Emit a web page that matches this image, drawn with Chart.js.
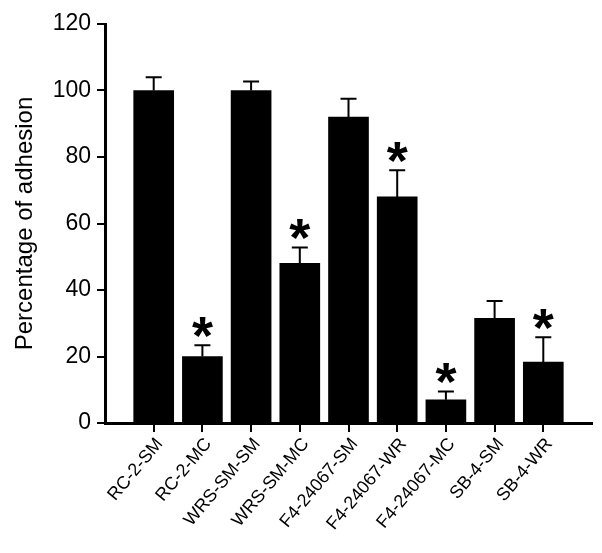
<!DOCTYPE html>
<html>
<head>
<meta charset="utf-8">
<script src="https://cdn.jsdelivr.net/npm/chart.js@4.4.1/dist/chart.umd.min.js"></script>
<style>
  html, body { margin: 0; padding: 0; background: #fff; }
  #wrap { width: 602px; height: 553px; }
</style>
</head>
<body>
<div id="wrap"><canvas id="adhesionChart"></canvas></div>
<script>
const categories = ["RC-2-SM", "RC-2-MC", "WRS-SM-SM", "WRS-SM-MC", "F4-24067-SM",
                    "F4-24067-WR", "F4-24067-MC", "SB-4-SM", "SB-4-WR"];
const adhesion = [100, 20, 100, 48, 92, 68, 7, 31.5, 18.3];
const errorUp = [4, 3.4, 2.7, 4.8, 5.5, 8, 2.5, 5.2, 7.5];
const significant = [false, true, false, true, false, true, true, false, true];
const yTicks = [0, 20, 40, 60, 80, 100, 120];

const FONT = "'Liberation Sans', Arial, sans-serif";

// error bars + asterisks drawn on top of the bars
const errorBarPlugin = {
  id: "errorBars",
  afterDatasetsDraw(chart) {
    const ctx = chart.ctx;
    const x = chart.scales.x, y = chart.scales.y;
    ctx.save();
    ctx.strokeStyle = "#000";
    ctx.fillStyle = "#000";
    ctx.lineWidth = 2;
    adhesion.forEach((v, i) => {
      const px = x.getPixelForValue(i);
      const top = y.getPixelForValue(v + errorUp[i]);
      const base = y.getPixelForValue(v);
      ctx.beginPath();
      ctx.moveTo(px, base);
      ctx.lineTo(px, top);
      ctx.moveTo(px - 8, top);
      ctx.lineTo(px + 8, top);
      ctx.stroke();
      if (significant[i]) {
        ctx.font = "bold 54px " + FONT;
        ctx.textAlign = "center";
        ctx.textBaseline = "alphabetic";
        ctx.fillText("*", px, top + 9);
      }
    });
    ctx.restore();
  }
};

const ctx = document.getElementById("adhesionChart").getContext("2d");

new Chart(ctx, {
  type: "bar",
  data: {
    datasets: [{
      label: "Percentage of adhesion",
      data: adhesion.map((v, i) => ({ x: i, y: v })),
      backgroundColor: "#000",
      borderWidth: 0,
      barThickness: 40
    }]
  },
  options: {
    responsive: true,
    maintainAspectRatio: false,
    animation: false,
    layout: { padding: { top: 24, right: 10, left: 0, bottom: 0 } },
    plugins: {
      legend: { display: false },
      tooltip: { enabled: false }
    },
    scales: {
      x: {
        type: "linear",
        offset: false,
        min: -1,
        max: 9,
        afterBuildTicks: scale => {
          scale.ticks = categories.map((c, i) => ({ value: i }));
        },
        afterFit: scale => { scale.height = 130; },
        border: { display: true, color: "#000", width: 3 },
        grid: { offset: false, drawOnChartArea: false, drawTicks: true, tickLength: 9, color: "#000", lineWidth: 2 },
        ticks: {
          autoSkip: false,
          maxRotation: 50,
          minRotation: 50,
          padding: 2,
          labelOffset: 6,
          color: "#000",
          font: { family: FONT, size: 18 },
          callback: v => categories[v] ?? ""
        }
      },
      y: {
        min: 0,
        max: 120,
        afterBuildTicks: scale => {
          scale.ticks = yTicks.map(v => ({ value: v }));
        },
        afterFit: scale => { scale.width = 105; },
        border: { display: true, color: "#000", width: 3 },
        grid: { drawOnChartArea: false, drawTicks: true, tickLength: 8, color: "#000", lineWidth: 2 },
        ticks: {
          padding: 6,
          color: "#000",
          font: { family: FONT, size: 23 }
        },
        title: {
          display: true,
          text: "Percentage of adhesion",
          color: "#000",
          font: { family: FONT, size: 24 },
          padding: { top: 11, bottom: 0 }
        }
      }
    }
  },
  plugins: [errorBarPlugin]
});
</script>
</body>
</html>
